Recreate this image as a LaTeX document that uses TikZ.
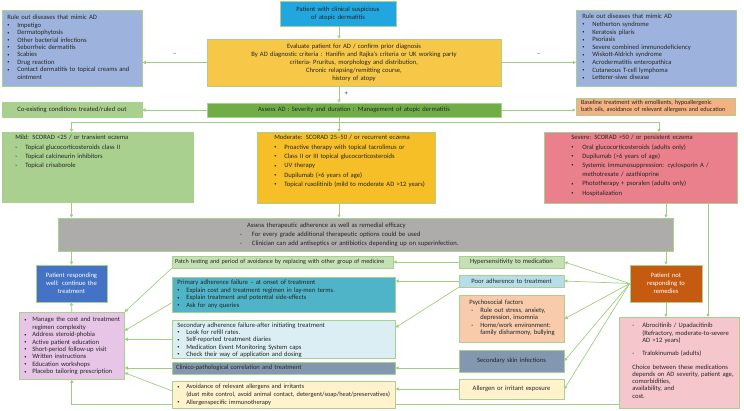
\documentclass[tikz,border=0pt]{standalone}
\usepackage{fontspec}
\setmainfont{Carlito}
\usetikzlibrary{arrows.meta,backgrounds}

\definecolor{ink}{HTML}{262626}
\definecolor{edge}{HTML}{A9D18E}
\definecolor{link}{HTML}{9DD07E}
\definecolor{skyfill}{HTML}{22A6DF}
\definecolor{goldfill}{HTML}{F7C848}
\definecolor{rulefill}{HTML}{9DB3DD}
\definecolor{leaffill}{HTML}{71AD47}
\definecolor{mintfill}{HTML}{A9D08E}
\definecolor{peachfill}{HTML}{F4B183}
\definecolor{amberfill}{HTML}{F6BE27}
\definecolor{rosefill}{HTML}{E9808B}
\definecolor{greyfill}{HTML}{AEABAB}
\definecolor{navyfill}{HTML}{4472C4}
\definecolor{orchidfill}{HTML}{E7C5E7}
\definecolor{palefill}{HTML}{C5E0B4}
\definecolor{tealfill}{HTML}{4FB4C8}
\definecolor{icefill}{HTML}{DAEEF3}
\definecolor{slatefill}{HTML}{8497B0}
\definecolor{creamfill}{HTML}{FFF2CC}
\definecolor{aquafill}{HTML}{B7DEE8}
\definecolor{apricotfill}{HTML}{F8CBAD}
\definecolor{rustfill}{HTML}{C55A11}
\definecolor{blushfill}{HTML}{F6C6CD}

\newcommand\boxfont{\fontsize{6.6}{7.4}\selectfont}
\newcommand\gradefont{\fontsize{6.6}{9.3}\selectfont}
\newcommand\bdot{\raisebox{0.5pt}{\fontsize{4.4}{4}\selectfont\textbullet}}
\newlength\bcol
\setlength\bcol{10pt}
\newcommand\bitem[2][\bdot]{\hangindent=\bcol\hangafter=1\noindent\makebox[\bcol][l]{#1}#2\par}

\tikzset{
    box/.style={draw=edge, line width=0.6pt, inner xsep=3pt, inner ysep=2pt,
        font=\boxfont, text=ink, align=left},
    arr/.style={draw=link, line width=0.7pt, -{Triangle[length=3.2pt,width=3.2pt]}},
    wire/.style={draw=link, line width=0.7pt},
}

\begin{document}
\begin{tikzpicture}[x=1pt, y=-1pt]
    \useasboundingbox (0,0) rectangle (744,410);

    % Columns used by the connectors
    \coordinate (split) at (339,122);
    \coordinate (colL) at (71.5,0);
    \coordinate (colR) at (666,0);
    \coordinate (colA) at (708,0);
    \coordinate (sevDrop) at (659,0);
    \coordinate (loopY) at (0,404);

    % Diagnosis
    \node[box, fill=skyfill, minimum width=116, minimum height=25, text width=110pt, align=center,
        font=\fontsize{6.6}{7.6}\selectfont] (suspect) at (338,13.5)
        {Patient with clinical suspicious\\of atopic dermatitis};
    \node[box, fill=goldfill, minimum width=294, minimum height=47, text width=288pt, align=center,
        font=\fontsize{6.6}{8}\selectfont] (eval) at (354,62.5)
        {Evaluate patient for AD / confirm prior diagnosis\\
         By AD diagnostic criteria : Hanifin and Rajka's criteria or UK working party\\
         criteria- Pruritus, morphology and distribution,\\
         Chronic relapsing/remitting course,\\
         history of atopy};
    \node[box, fill=rulefill, anchor=north west, text width=134pt, text height=7.5pt, text depth=64.5pt] (ruleL) at (2,10)
        {\leftskip=2pt Rule out diseases that mimic AD\par
         \bitem{Impetigo}\bitem{Dermatophytosis}\bitem{Other bacterial infections}
         \bitem{Seborrheic dermatitis}\bitem{Scabies}\bitem{Drug reaction}
         \bitem{\mbox{Contact dermatitis to topical creams and}\newline ointment}};
    \node[box, fill=rulefill, anchor=north west, text width=154pt, text height=6.5pt, text depth=65.5pt,
        font=\fontsize{6.6}{7.6}\selectfont] (ruleR) at (576,10)
        {\leftskip=3pt Rule out diseases that mimic AD\par
         \bitem{Netherton syndrome}\bitem{Keratosis pilaris}\bitem{Psoriasis}
         \bitem{Severe combined immunodeficiency}\bitem{Wiskott-Aldrich syndrome}
         \bitem{Acrodermatitis enteropathica}\bitem{Cutaneous T-cell lymphoma}
         \bitem{Letterer-siwe disease}};

    % Severity
    \node[box, fill=leaffill, minimum width=294, minimum height=14, text width=288pt, align=center] (assess) at (354,110)
        {Assess AD : Severity and duration : Management of atopic dermatitis};
    \node[box, fill=mintfill, minimum width=140, minimum height=15, text width=134pt, align=center] (coexist) at (72,109.5)
        {Co-existing conditions treated/ruled out};
    \node[box, fill=peachfill, minimum width=159, minimum height=17, text width=155pt, inner xsep=2pt,
        font=\fontsize{6.2}{7.2}\selectfont] (base) at (655.5,106.5)
        {\leftskip=3pt Baseline treatment with emollients, hypoallergenic\newline
         \mbox{bath oils, avoidance of relevant allergens and education}\par};

    \node[box, fill=mintfill, anchor=north west, text width=185pt, text height=5.5pt, text depth=60.5pt, font=\gradefont] (mild) at (2,132)
        {\leftskip=10pt Mild: SCORAD <25 / or transient eczema\par
         \bitem[-]{Topical glucocorticosteroids class II}
         \bitem[-]{Topical calcineurin inhibitors}
         \bitem[-]{Topical crisaborole}};
    \node[box, fill=amberfill, anchor=north west, text width=172pt, text height=5.5pt, text depth=61.5pt, font=\gradefont] (moderate) at (257,132)
        {\leftskip=14pt Moderate: SCORAD 25--50 / or recurrent eczema\par
         \bitem{Proactive therapy with topical tacrolimus or}
         \bitem{Class II or III topical glucocorticosteroids}
         \bitem{UV therapy}
         \bitem{Dupilumab (>6 years of age)}
         \bitem{\mbox{Topical ruxolitinib (mild to moderate AD >12 years)}}};
    \node[box, fill=rosefill, anchor=north west, text width=187pt, text height=5.5pt, text depth=61.5pt,
        font=\fontsize{6.6}{9.2}\selectfont] (severe) at (544,132)
        {\leftskip=24pt\setlength\bcol{11pt}Severe: SCORAD >50 / or persistent eczema\par
         \bitem{Oral glucocorticosteroids (adults only)}
         \bitem{Dupilumab (>6 years of age)}
         \bitem{\mbox{Systemic immunosuppression: cyclosporin A /}\newline methotrexate / azathioprine}
         \bitem{Phototherapy + psoralen (adults only)}
         \bitem{Hospitalization}};

    % Adherence
    \node[box, fill=greyfill, minimum width=615, minimum height=33, text width=609pt, font=\fontsize{6.6}{9}\selectfont] (gray) at (365.5,234.5)
        {\leftskip=179pt\setlength\bcol{12pt}\hspace*{7pt}Assess therapeutic adherence as well as remedial efficacy\par
         \bitem[-]{For every grade additional therapeutic options could be used}
         \bitem[-]{Clinician can add antiseptics or antibiotics depending up on superinfection.}};

    \node[box, fill=navyfill, text=white, minimum width=71, minimum height=37, text width=65pt, align=center,
        font=\fontsize{6.6}{8}\selectfont] (respond) at (71.5,283.5)
        {Patient responding\\well: continue the\\treatment};
    \node[box, fill=rustfill, text=white, minimum width=72, minimum height=37, text width=66pt, align=center,
        font=\fontsize{6.6}{8}\selectfont] (notresp) at (666,283.5)
        {Patient not\\responding to\\remedies};

    \node[box, fill=orchidfill, anchor=north west, text width=101pt, inner xsep=2pt, text height=7.5pt, text depth=55.5pt] (manage) at (19,312)
        {\leftskip=3pt\setlength\bcol{8pt}%
         \bitem{\mbox{Manage the cost and treatment}\newline regimen complexity}
         \bitem{Address steroid-phobia}\bitem{Active patient education}
         \bitem{Short-period follow-up visit}\bitem{Written instructions}
         \bitem{Education workshops}\bitem{Placebo tailoring prescription}};

    % Middle column
    \node[box, fill=palefill, minimum width=221, minimum height=12, text width=215pt,
        font=\fontsize{6.2}{7.4}\selectfont] (patch) at (282.5,262)
        {\mbox{Patch testing and period of avoidance by replacing with other group of medicine}\par};
    \node[box, fill=tealfill, anchor=north west, text width=217pt, text height=5.5pt, text depth=25.5pt] (primary) at (172,277)
        {\leftskip=2pt\setlength\bcol{9pt}Primary adherence failure -- at onset of treatment\par
         \bitem{Explain cost and treatment regimen in lay-men terms.}
         \bitem{Explain treatment and potential side-effects}
         \bitem{Ask for any queries}};
    \node[box, fill=icefill, anchor=north west, text width=217pt, text height=4.8pt, text depth=29.2pt,
        font=\fontsize{6.6}{7.3}\selectfont] (secondary) at (172,320)
        {\leftskip=2pt\setlength\bcol{9pt}Secondary adherence failure-after initiating treatment\par
         \bitem{Look for refill rates.}
         \bitem{Self-reported treatment diaries}
         \bitem{Medication Event Monitoring System caps}
         \bitem{Check their way of application and dosing}};
    \node[box, fill=slatefill, minimum width=223, minimum height=12, text width=217pt] (clinico) at (283.5,368)
        {\leftskip=1pt Clinico-pathological correlation and treatment\par};
    \node[box, fill=creamfill, anchor=north west, text width=217pt, text height=5.5pt, text depth=17.5pt,
        font=\fontsize{6.4}{7.6}\selectfont] (avoid) at (172,381)
        {\leftskip=2pt\setlength\bcol{9pt}%
         \bitem{Avoidance of relevant allergens and irritants\newline
                \mbox{(dust mite control, avoid animal contact, detergent/soap/heat/preservatives)}}
         \bitem{Allergenspecific immunotherapy}};

    % Right column
    \node[box, fill=palefill, minimum width=105, minimum height=12, text width=99pt, align=center] (hyper) at (511.5,262)
        {Hypersensitivity to medication};
    \node[box, fill=aquafill, minimum width=105, minimum height=12, text width=99pt, align=center] (poor) at (511.5,281)
        {Poor adherence to treatment};
    \node[box, fill=apricotfill, anchor=north west, text width=99pt, text height=7.5pt, text depth=35.5pt] (psycho) at (459,295)
        {\leftskip=7pt\setlength\bcol{11pt}Psychosocial factors\par
         \bitem[\hspace{2pt}-]{Rule out stress, anxiety,\newline depression, insomnia}
         \bitem[\hspace{2pt}-]{Home/work environment:\newline \mbox{family disharmony, bullying}}};
    \node[box, fill=slatefill, minimum width=105, minimum height=22, text width=99pt, align=center] (secinf) at (511.5,361)
        {Secondary skin infections};
    \node[box, fill=creamfill, minimum width=105, minimum height=20, text width=99pt, align=center] (allergen) at (511.5,389)
        {Allergen or irritant exposure};

    \node[box, fill=blushfill, anchor=north west, text width=114pt, text height=8.5pt, text depth=78.5pt,
        font=\fontsize{6.6}{7.2}\selectfont] (abro) at (619,317)
        {\leftskip=10pt
         \bitem[-]{Abrocitinib / Upadacitinib\newline \mbox{(Refractory, moderate-to-severe}\newline AD >12 years)}
         \vspace{5.8pt}
         \bitem[-]{Tralokinumab (adults)}
         \vspace{6.8pt}\noindent
         \mbox{Choice between these medications}\newline \mbox{depends on AD severity, patient age,}\newline
         comorbidities,\newline availability, and\newline cost.\par};

    % Connectors: diagnosis
    \draw[arr] (suspect.south -| split) -- (eval.north -| split);
    \draw[arr] (eval.west) -- (eval.west -| ruleL.east) node[midway, above=3pt, text=ink, font=\boxfont] (negL) {--};
    \draw[arr] (eval.east) -- (eval.east -| ruleR.west) node[midway, above=3pt, text=ink, font=\boxfont] (negR) {--};
    \draw[arr] (eval.south -| split) -- (assess.north -| split) node[pos=0.45, right=2pt, text=ink, font=\boxfont] (plus) {+};
    \draw[arr] (assess.west) -- (assess.west -| coexist.east);
    \draw[arr] (assess.east) -- (assess.east -| base.west);

    % Connectors: severity grades
    \draw[wire] (assess.south -| split) -- (split);
    \draw[arr] (split) -| (mild.north -| colL);
    \draw[arr] (split) -- (moderate.north -| split);
    \draw[arr] (split) -| (severe.north -| sevDrop);
    \draw[arr] (mild.south -| colL) -- (gray.north -| colL);
    \draw[arr] (moderate.south -| split) -- (gray.north -| split);
    \draw[arr] (severe.south -| colR) -- (gray.north -| colR);
    \draw[arr] (severe.south -| colA) -- (abro.north -| colA);

    % Connectors: response
    \draw[arr] (gray.south -| colL) -- (respond.north);
    \draw[arr] (manage.north) -- (respond.south);
    \draw[arr] (gray.south -| colR) -- (notresp.north);
    \draw[arr] (notresp.south) -- (abro.north -| notresp.south);
    \begin{pgfonlayer}{background}
        \draw[arr] (abro.west |- loopY) -| (manage.south);
    \end{pgfonlayer}

    % Connectors: causes and remedies
    \foreach \cause in {hyper,poor,psycho,secinf,allergen} {
        \draw[arr] (notresp.west) -- (\cause.east);
    }
    \draw[arr] (hyper.west) -- (hyper.west -| patch.east);
    \draw[arr] (poor.west) -- (poor.west -| primary.east);
    \draw[arr] (poor.south west) -- (secondary.6);
    \draw[arr] (clinico.east -| secinf.west) -- (clinico.east);
    \draw[arr] (allergen.west) -- (allergen.west -| avoid.east);

    \draw[arr] (patch.south west) -- (manage.north east);
    \draw[arr] (primary.184) -- (manage.16);
    \draw[arr] (secondary.west) -- (secondary.west -| manage.east);
    \draw[arr] (clinico.west) -- (clinico.west -| manage.east);
    \draw[arr] (avoid.178) -- (manage.-27);

\end{tikzpicture}
\end{document}
